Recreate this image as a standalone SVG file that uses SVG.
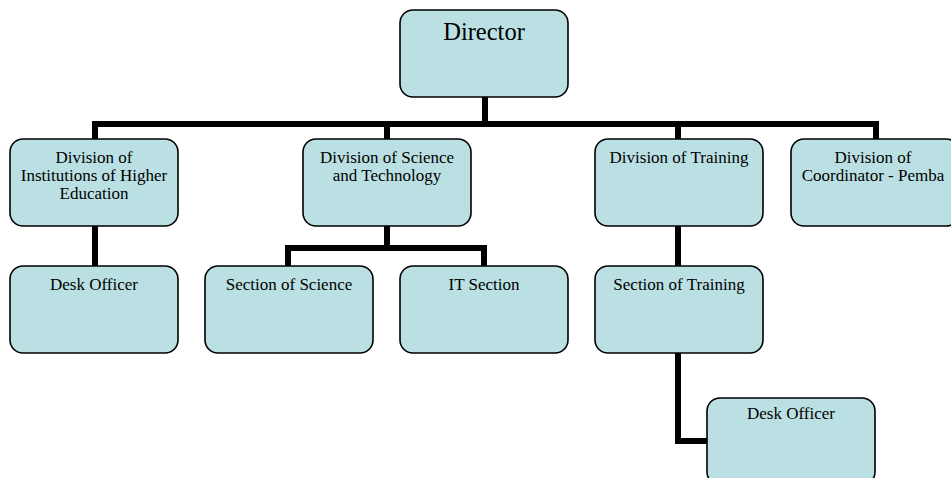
<svg xmlns="http://www.w3.org/2000/svg" width="951" height="478" viewBox="0 0 951 478">
<style>
.box{fill:#BBE0E3;stroke:#000;stroke-width:1.6}
.t{font-family:"Liberation Serif","Times New Roman",serif;font-size:17px;fill:#000;text-anchor:middle}
.big{font-size:24.5px}
.c{fill:none;stroke:#000;stroke-width:6;stroke-linejoin:miter;stroke-linecap:butt}
</style>
<rect width="951" height="478" fill="#fff"/>
<g id="connectors">
<path class="c" d="M485 97V124M95 139V124H876V139M387 124V139M678 124V139"/>
<path class="c" d="M95 226V266"/>
<path class="c" d="M387 226V248M288 266V248H484V266"/>
<path class="c" d="M678 226V266"/>
<path class="c" d="M678 353V441H708"/>
</g>
<g id="director">
<rect class="box" x="400" y="10" width="168" height="87" rx="13"/>
<text class="t big" x="484" y="40">Director</text>
</g>
<g id="div-higher-ed">
<rect class="box" x="10" y="139" width="168" height="87" rx="13"/>
<text class="t" x="94" y="163">Division of</text>
<text class="t" x="94" y="181">Institutions of Higher</text>
<text class="t" x="94" y="199">Education</text>
</g>
<g id="div-science-tech">
<rect class="box" x="303" y="139" width="168" height="87" rx="13"/>
<text class="t" x="387" y="163">Division of Science</text>
<text class="t" x="387" y="181">and Technology</text>
</g>
<g id="div-training">
<rect class="box" x="595" y="139" width="168" height="87" rx="13"/>
<text class="t" x="679" y="163">Division of Training</text>
</g>
<g id="div-pemba">
<rect class="box" x="791" y="139" width="168" height="87" rx="13"/>
<text class="t" x="873" y="163">Division of</text>
<text class="t" x="873" y="181">Coordinator - Pemba</text>
</g>
<g id="desk-officer-1">
<rect class="box" x="10" y="266" width="168" height="87" rx="13"/>
<text class="t" x="94" y="290">Desk Officer</text>
</g>
<g id="section-science">
<rect class="box" x="205" y="266" width="168" height="87" rx="13"/>
<text class="t" x="289" y="290">Section of Science</text>
</g>
<g id="it-section">
<rect class="box" x="400" y="266" width="168" height="87" rx="13"/>
<text class="t" x="484" y="290">IT Section</text>
</g>
<g id="section-training">
<rect class="box" x="595" y="266" width="168" height="87" rx="13"/>
<text class="t" x="679" y="290">Section of Training</text>
</g>
<g id="desk-officer-2">
<rect class="box" x="707" y="398" width="168" height="87" rx="13"/>
<text class="t" x="791" y="419">Desk Officer</text>
</g>
</svg>
